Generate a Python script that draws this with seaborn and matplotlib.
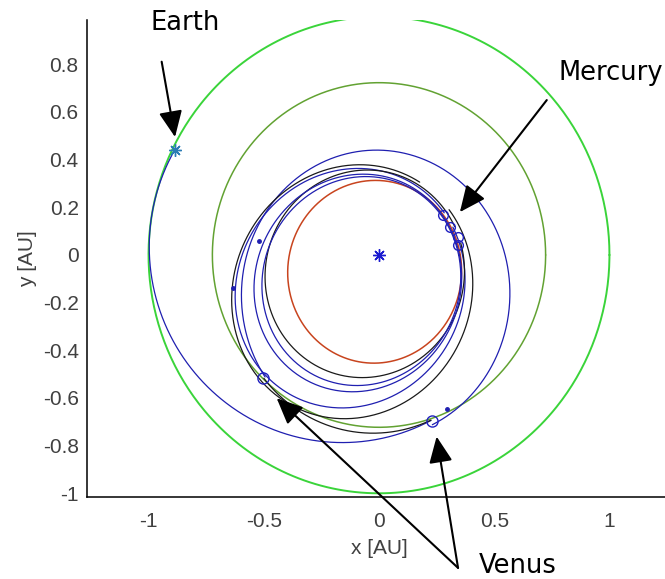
import numpy as np
import pandas as pd
import matplotlib
matplotlib.use('Agg')
import matplotlib.pyplot as plt
import seaborn as sns

# planet orbits (semi-latus rectum [AU], eccentricity, perihelion angle [deg])
planet_names = ['Earth', 'Venus', 'Mercury']
planet_p = [1.0, 0.723, 0.37]
planet_e = [0.0, 0.0, 0.19]
planet_w = [0, 0, 75]
planet_colors = ['#3ad43a', '#62a232', '#c8441e']

# spacecraft trajectory legs (conic arcs around the Sun)
leg_p = [0.799, 0.56, 0.60, 0.477, 0.45, 0.417, 0.418, 0.405]
leg_e = [0.201, 0.274, 0.20, 0.354, 0.362, 0.228, 0.32, 0.30]
leg_w = [350, 85, 80, 53, 48, 52, 52, 55]
leg_start = [153.6, 288, 226, 60, 32, 20, 8, 0]
leg_end = [288, 586, 288, 392, 380, 368, 368, 360]
leg_colors = ['#1f1fb0', '#1f1fb0', '#1a1a1a', '#1a1a1a', '#1f1fb0', '#1a1a1a', '#1f1fb0', '#1f1fb0']

# flyby / event markers
venus_fx = [-0.503, 0.23]
venus_fy = [-0.516, -0.697]
mercury_fx = [0.278, 0.308, 0.343, 0.343]
mercury_fy = [0.168, 0.117, 0.076, 0.042]
dot_x = [-0.52, -0.633, 0.295]
dot_y = [0.06, -0.138, -0.646]
earth_pos = (-0.885, 0.44)
sun_pos = (0.0, 0.0)


def conic(p, e, w, t0, t1):
    th = np.radians(np.linspace(t0, t1, 500))
    r = p / (1 + e * np.cos(th - np.radians(w)))
    return pd.DataFrame({'x': r * np.cos(th), 'y': r * np.sin(th)})


sns.set_style('white')
fig = plt.figure(figsize=(6.65, 5.79), dpi=100)
ax = fig.add_axes([87 / 665, 1 - 497 / 579, 578 / 665, 477 / 579])

for name, p, e, w, c in zip(planet_names, planet_p, planet_e, planet_w, planet_colors):
    df = conic(p, e, w, 0, 360)
    sns.lineplot(data=df, x='x', y='y', sort=False, estimator=None, color=c,
                 lw=1.4 if name == 'Earth' else 1.1, ax=ax)

for p, e, w, t0, t1, c in zip(leg_p, leg_e, leg_w, leg_start, leg_end, leg_colors):
    df = conic(p, e, w, t0, t1)
    sns.lineplot(data=df, x='x', y='y', sort=False, estimator=None, color=c, lw=0.9, ax=ax)

ax.plot(venus_fx, venus_fy, 'o', mfc='none', mec='#2020c0', ms=8, mew=1.0)
ax.plot(mercury_fx, mercury_fy, 'o', mfc='none', mec='#2020c0', ms=7, mew=1.0)
ax.plot(dot_x, dot_y, '.', color='#1f1fb0', ms=5)
ax.plot(*sun_pos, marker=(8, 2, 0), color='#1a1ad0', ms=9, mew=1.0)
ax.plot(*earth_pos, marker=(8, 2, 0), color='#2b7cb5', ms=9, mew=1.0)

ax.set_xlim(-1.267, 1.241)
ax.set_ylim(-1.0155, 0.986)
ax.set_xticks([-1, -0.5, 0, 0.5, 1])
ax.set_xticklabels(['-1', '-0.5', '0', '0.5', '1'])
ax.set_yticks(np.round(np.arange(-1, 0.81, 0.2), 1))
ax.set_yticklabels(['-1', '-0.8', '-0.6', '-0.4', '-0.2', '0', '0.2', '0.4', '0.6', '0.8'])

for s in ['top', 'right']:
    ax.spines[s].set_visible(False)
for s in ['left', 'bottom']:
    ax.spines[s].set_color('black')
    ax.spines[s].set_linewidth(1.1)

tick_font = {'family': ['Liberation Sans', 'DejaVu Sans'], 'size': 15, 'color': '#404040'}
ax.tick_params(direction='in', length=5, width=1, colors='black', labelcolor='#404040', labelsize=15)
ax.tick_params(axis='x', pad=11)
ax.tick_params(axis='y', pad=6)
for lab in ax.get_xticklabels() + ax.get_yticklabels():
    lab.set_family(['Liberation Sans', 'DejaVu Sans'])

ax.set_xlabel('x [AU]', fontdict=tick_font)
ax.set_ylabel('y [AU]', fontdict=tick_font)
ax.xaxis.set_label_coords(0.505, -0.088)
ax.yaxis.set_label_coords(-0.087, 0.5)

arrow = dict(arrowstyle='-|>,head_length=0.8,head_width=0.36', mutation_scale=20,
             color='black', lw=1.5, shrinkA=0, shrinkB=0)
txt = dict(fontsize=18.5, family='DejaVu Sans', color='black', va='baseline', ha='left')

ax.annotate('', xy=(-0.885, 0.495), xytext=(-0.943, 0.811), arrowprops=arrow, annotation_clip=False)
ax.text(-0.993, 0.944, 'Earth', clip_on=False, **txt)

ax.annotate('', xy=(0.351, 0.180), xytext=(0.728, 0.650), arrowprops=arrow, annotation_clip=False)
ax.text(0.78, 0.734, 'Mercury', clip_on=False, **txt)

ax.annotate('', xy=(-0.444, -0.601), xytext=(0.343, -1.313), arrowprops=arrow, annotation_clip=False)
ax.annotate('', xy=(0.250, -0.762), xytext=(0.343, -1.313), arrowprops=arrow, annotation_clip=False)
ax.text(0.435, -1.334, 'Venus', clip_on=False, **txt)

fig.savefig('out.png', dpi=100)
